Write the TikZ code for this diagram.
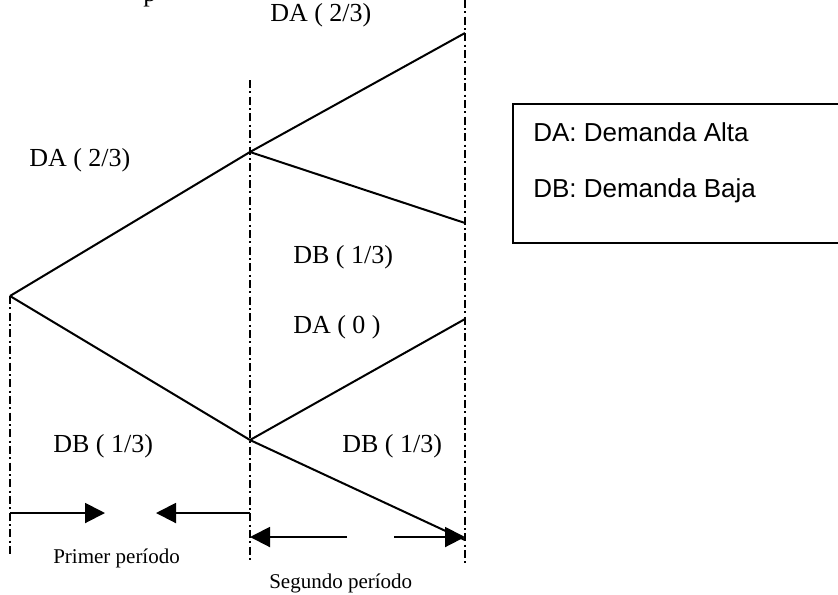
\documentclass[tikz,border=0pt]{standalone}
\usepackage{fontspec}
\setmainfont{Liberation Serif}
\newfontfamily\legendfont{Liberation Sans}
\usetikzlibrary{arrows.meta}

\begin{document}
\begin{tikzpicture}
[x=0.75pt,y=-0.75pt,
  branchDecorate/.style={-,line width=1.5pt},%
  guideDecorate/.style={-,line width=1.1pt,dash pattern=on 6pt off 2.5pt on 1.5pt off 2.5pt},%
  arrowDecorate/.style={-{Triangle[length=15pt,width=15pt]},line width=1.5pt},%
  labelDecorate/.style={anchor=base west,inner sep=0pt,font=\fontsize{19.5}{22}\selectfont},%
  periodDecorate/.style={anchor=base west,inner sep=0pt,font=\fontsize{15.75}{18}\selectfont},%
  legendDecorate/.style={anchor=base west,inner sep=0pt,font=\legendfont\fontsize{19.5}{22}\selectfont}]
\useasboundingbox (0,0) rectangle (838,594);
%% nodes or vertices of the tree
\foreach \nodename/\x/\y in {root/10/296, up/250/152, down/250/440,
  upHigh/465/33, upLow/465/223, downHigh/465/319, downLow/465/540}
{
  \coordinate (\nodename) at (\x,\y);
}
%% ends of the guide lines and of the arrows
\foreach \nodename/\x/\y in {rootFoot/10/557, midTop/250/80, midFoot/250/563,
  endTop/465/0, endFoot/465/566,
  firstLeft/10/513, firstTipA/105/513, firstTipB/156/513, firstRight/250/513,
  secondLeft/250/537, secondTailA/347/537, secondTailB/394/537, secondRight/465/537}
{
  \coordinate (\nodename) at (\x,\y);
}
%% guide lines
\path
\foreach \startnode/\endnode in {root/rootFoot, midTop/midFoot, endTop/endFoot}
{
  (\startnode) edge[guideDecorate] (\endnode)
};
%% branches
\path
\foreach \startnode/\endnode in {root/up, root/down, up/upHigh, up/upLow,
  down/downHigh, down/downLow}
{
  (\startnode) edge[branchDecorate] (\endnode)
};
%% period arrows
\path
\foreach \startnode/\endnode in {firstLeft/firstTipA, firstRight/firstTipB,
  secondTailA/secondLeft, secondTailB/secondRight}
{
  (\startnode) edge[arrowDecorate] (\endnode)
};
%% labels
\node (cut) at (143,1) [labelDecorate] {p};
\node (labUpHigh) at (270,21) [labelDecorate] {DA ( 2/3)};
\node (labUp) at (29,166) [labelDecorate] {DA ( 2/3)};
\node (labUpLow) at (293,263) [labelDecorate] {DB ( 1/3)};
\node (labDownHigh) at (293,333) [labelDecorate] {DA ( 0 )};
\node (labDown) at (53,452) [labelDecorate] {DB ( 1/3)};
\node (labDownLow) at (342,452) [labelDecorate] {DB ( 1/3)};
\node (labFirst) at (53,563) [periodDecorate] {Primer período};
\node (labSecond) at (269,588) [periodDecorate] {Segundo período};
%% legend
\draw[line width=1.1pt] (513,104) rectangle (850,243);
\node (legHigh) at (533,141) [legendDecorate] {DA: Demanda Alta};
\node (legLow) at (533,197) [legendDecorate] {DB: Demanda Baja};
\end{tikzpicture}
\end{document}
